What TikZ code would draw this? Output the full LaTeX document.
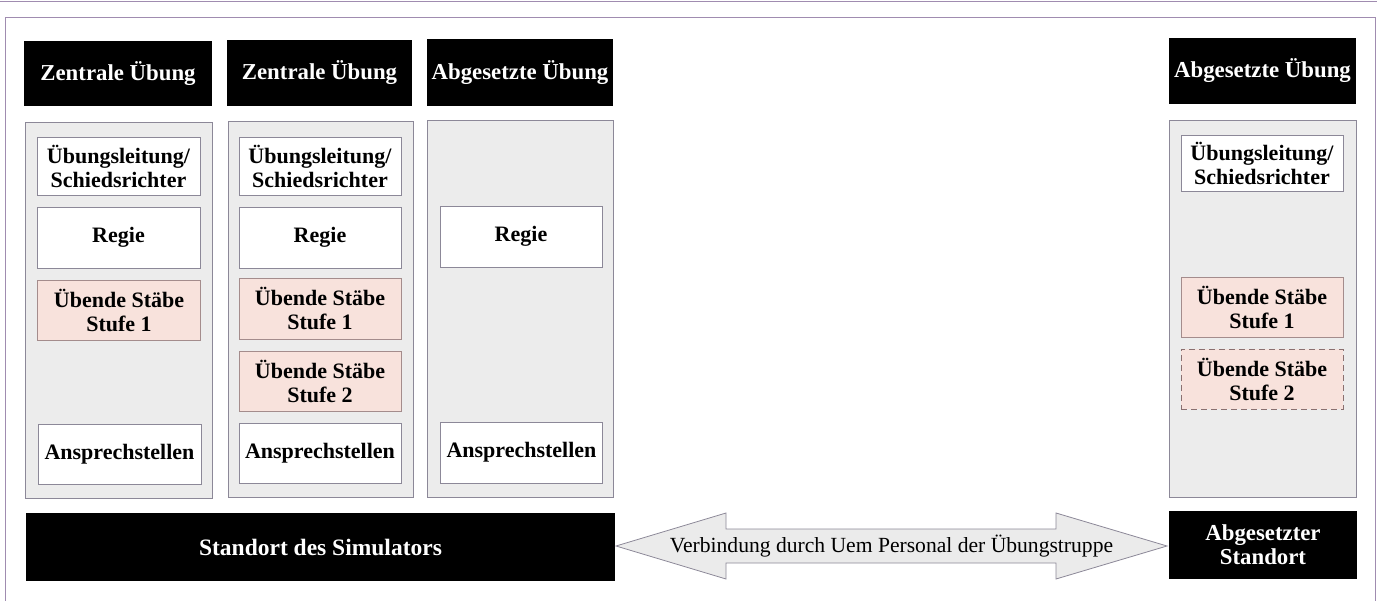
\documentclass[tikz,border=0pt]{standalone}
\usepackage{fontspec}
\setmainfont{Liberation Serif}
\usetikzlibrary{calc}
\definecolor{frameline}{HTML}{A08CB0}
\definecolor{boxline}{HTML}{8C8898}
\definecolor{grayfill}{HTML}{ECECEC}
\definecolor{pinkfill}{HTML}{F8E2DC}
\definecolor{pinkline}{HTML}{A48C8C}
\definecolor{dashline}{HTML}{8A7070}
\definecolor{arrowfill}{HTML}{EBEBEB}
\begin{document}
\begin{tikzpicture}[x=1pt,y=-1pt,
  base/.style={inner sep=0pt, outer sep=0pt, align=center,
    font=\bfseries\fontsize{22}{24}\selectfont},
  header/.style={base, fill=black, text=white, font=\bfseries\fontsize{22.8}{24}\selectfont},
  panel/.style={base, draw=boxline, line width=0.8pt, fill=grayfill},
  whitebox/.style={base, draw=boxline, line width=0.8pt, fill=white, minimum width=162},
  pinkbox/.style={base, draw=pinkline, line width=0.8pt, fill=pinkfill, minimum width=162},
  dashbox/.style={pinkbox, draw=dashline, dash pattern=on 6pt off 4pt},
  frame/.style={draw=frameline, line width=1pt},
  arrowtext/.style={inner sep=0pt, font=\fontsize{21.6}{24}\selectfont}
]
\useasboundingbox (0,0) rectangle (1377,601);
\fill[white] (0,0) rectangle (1377,601);
% frame
\draw[frame] (0,2) -- (1377,2);
\draw[frame] (5,601) -- (5,18) -- (1375,18) -- (1375,601);

% headers
\node[header, minimum width=188, minimum height=65] (h1) at (118,73.5) {\raisebox{-2pt}{Zentrale Übung}};
\node[header, minimum width=185, minimum height=66] (h2) at (319.5,73) {\raisebox{-2pt}{Zentrale Übung}};
\node[header, minimum width=186, minimum height=67] (h3) at (520,72.5) {\raisebox{-2pt}{Abgesetzte Übung}};
\node[header, minimum width=187, minimum height=66] (h4) at (1262.5,71) {\raisebox{-2pt}{Abgesetzte Übung}};

% panels
\node[panel, minimum width=187, minimum height=376] (c1) at (118.5,310) {};
\node[panel, minimum width=185, minimum height=376] (c2) at (320.5,309) {};
\node[panel, minimum width=186, minimum height=377] (c3) at (520,308.5) {};
\node[panel, minimum width=187, minimum height=377] (c4) at (1262.5,308.5) {};

% column 1
\node[whitebox, minimum width=163, minimum height=58] (u1) at (118.5,166) {Übungsleitung/\\Schiedsrichter};
\node[whitebox, minimum width=163, minimum height=61] (r1) at (118.5,237.5) {Regie};
\node[pinkbox, minimum width=163, minimum height=60] (s1a) at (119,310) {Übende Stäbe\\Stufe 1};
\node[whitebox, minimum width=163, minimum height=60] (a1) at (119.5,454) {Ansprechstellen};

% column 2
\node[whitebox, minimum height=58] (u2) at (320,166) {Übungsleitung/\\Schiedsrichter};
\node[whitebox, minimum height=61] (r2) at (320,237.5) {Regie};
\node[pinkbox, minimum height=61] (s2a) at (320,308.5) {Übende Stäbe\\Stufe 1};
\node[pinkbox, minimum height=60] (s2b) at (320,381) {Übende Stäbe\\Stufe 2};
\node[whitebox, minimum height=60] (a2) at (320,453) {Ansprechstellen};

% column 3
\node[whitebox, minimum height=61] (r3) at (521,236.5) {Regie};
\node[whitebox, minimum height=61] (a3) at (521.5,452.5) {Ansprechstellen};

% column 4
\node[whitebox, minimum height=56] (u4) at (1262,163) {Übungsleitung/\\Schiedsrichter};
\node[pinkbox, minimum height=60] (s4a) at (1262,307) {Übende Stäbe\\Stufe 1};
\node[dashbox, minimum height=60] (s4b) at (1262,379) {Übende Stäbe\\Stufe 2};

% bottom
\node[header, minimum width=589, minimum height=68, font=\bfseries\fontsize{23.5}{24}\selectfont] (sim) at (320.5,547) {\raisebox{-1pt}{Standort des Simulators}};
\node[header, minimum width=188, minimum height=68] (abst) at (1263,545) {Abgesetzter\\Standort};

% double arrow
\coordinate (tl) at ($(sim.east)+(1,-1)$);
\coordinate (tr) at ($(abst.west)+(-2,1)$);
\draw[draw=boxline, line width=0.8pt, fill=arrowfill]
  (tl) -- ++(110,-33) -- ++(0,16) -- ++(330,0) -- ++(0,-16) -- (tr)
  -- ++(-111,33) -- ++(0,-16) -- ++(-330,0) -- ++(0,16) -- cycle;
\node[arrowtext] (conn) at ($(tl)!0.5!(tr)$) {Verbindung durch Uem Personal der Übungstruppe};
\end{tikzpicture}
\end{document}
